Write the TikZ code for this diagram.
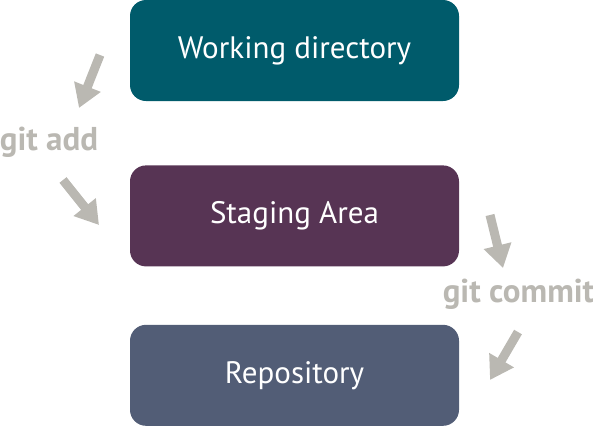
\documentclass[tikz,border=0pt]{standalone}
\usepackage{fontspec}
\setmainfont{PT Sans}
\usetikzlibrary{arrows.meta, positioning}
\definecolor{workcol}{HTML}{005B6B}
\definecolor{stagecol}{HTML}{573454}
\definecolor{repocol}{HTML}{525D76}
\definecolor{gitgray}{HTML}{BAB8B2}

\begin{document}
\begin{tikzpicture}[x=1pt, y=1pt,
  area/.style={rectangle, rounded corners=16pt, minimum width=329pt, minimum height=101pt,
    inner sep=0pt, text=white, font=\fontsize{31}{36}\selectfont},
  cmd/.style={anchor=base, text=gitgray, inner sep=0pt, font=\fontsize{33}{38}\selectfont\bfseries},
  flow/.style={draw=gitgray, line width=9pt, -{Triangle[width=27pt, length=23pt]}}]
  \useasboundingbox (0,0) rectangle (593,-426);

  \node[area, fill=workcol] (work) at (294.5,-50.5) {Working directory};
  \node[area, fill=stagecol, below=64pt of work] (stage) {Staging Area};
  \node[area, fill=repocol, below=58pt of stage] (repo) {Repository};

  \node[cmd] (add) at (49,-150) {git add};
  \node[cmd] (commit) at (518.5,-302) {git commit};

  % arrow ends
  \coordinate (a1) at (100,-55);  \coordinate (a2) at (79,-108);
  \coordinate (a3) at (63,-180);  \coordinate (a4) at (99,-225);
  \coordinate (c1) at (490,-215); \coordinate (c2) at (503,-268);
  \coordinate (c3) at (518,-332); \coordinate (c4) at (490,-380);

  \draw[flow] (a1) -- (a2);
  \draw[flow] (a3) -- (a4);
  \draw[flow] (c1) -- (c2);
  \draw[flow] (c3) -- (c4);
\end{tikzpicture}
\end{document}
